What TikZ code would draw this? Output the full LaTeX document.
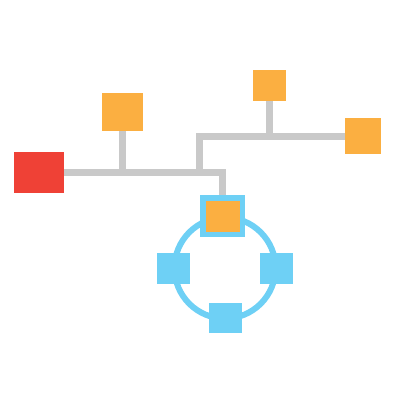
\documentclass[tikz,border=0pt]{standalone}
\definecolor{netred}{HTML}{EF4136}
\definecolor{netorange}{HTML}{FBAF41}
\definecolor{netblue}{HTML}{6ED0F5}
\definecolor{netgrey}{HTML}{C9C9C9}
\begin{document}
\begin{tikzpicture}[x=1pt,y=-1pt,
  box/.style={rectangle,inner sep=0pt,fill=#1},
  wire/.style={draw=netgrey,line width=7pt}]
\useasboundingbox (0,0) rectangle (400,400);

\draw[netblue,line width=6pt] (225,268) circle (50.5);

\node[box=netred,minimum width=50pt,minimum height=41pt] (hub) at (39,172.5) {};
\node[box=netorange,minimum width=41pt,minimum height=38pt] (a) at (122.5,112) {};
\node[box=netorange,minimum width=33pt,minimum height=31pt] (b) at (269.5,85.5) {};
\node[box=netorange,minimum width=36pt,minimum height=36pt] (c) at (363,136) {};

\node[box=netorange,draw=netblue,line width=5.5pt,minimum width=39.5pt,minimum height=36.5pt] (n) at (222.7,216) {};
\node[box=netblue,minimum width=33pt,minimum height=31pt] (w) at (173.3,268.7) {};
\node[box=netblue,minimum width=33pt,minimum height=31pt] (e) at (276.7,268.7) {};
\node[box=netblue,minimum width=33pt,minimum height=30pt] (s) at (225.7,317.5) {};

\coordinate (j1) at (122.5,172.5);
\coordinate (j2) at (199,172.5);
\coordinate (j3) at (269.5,136);

\draw[wire] (hub.east) -| (n.north);
\draw[wire] (a.south) -- (j1);
\draw[wire] (j2) |- (c.west);
\draw[wire] (b.south) -- (j3);
\end{tikzpicture}
\end{document}
